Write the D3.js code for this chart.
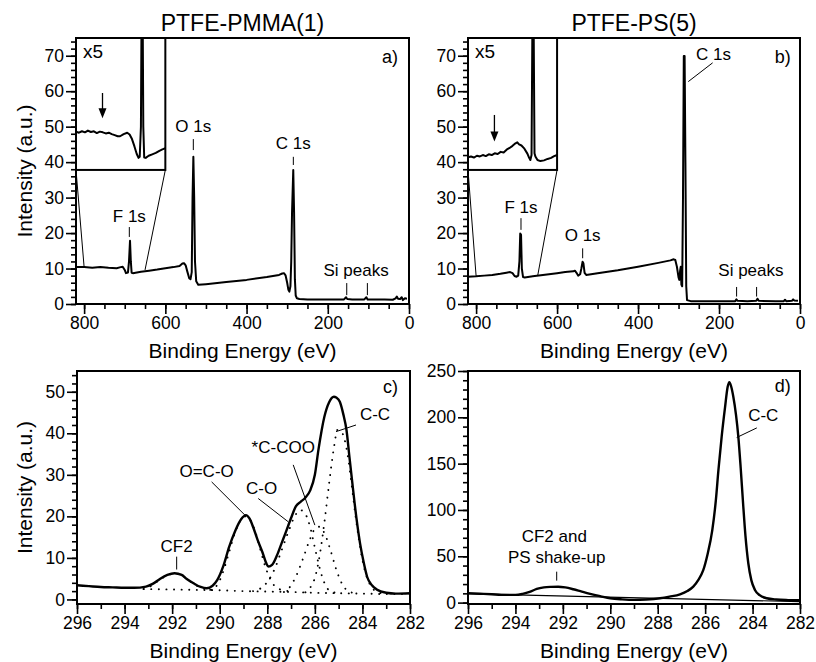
<!DOCTYPE html>
<html>
<head>
<meta charset="utf-8">
<script src="https://cdn.jsdelivr.net/npm/d3@7"></script>
<style>
body { margin: 0; background: #fff; }
svg text { font-family: "Liberation Sans", Arial, Helvetica, sans-serif; fill: #000; }
</style>
</head>
<body>
<script>
// ---- data: [binding energy (eV), intensity (a.u.)] ----
var titles = ['PTFE-PMMA(1)', 'PTFE-PS(5)'];

var surveyA = [[820,10.4],[800,10.4],[780,10.2],[760,10.4],[740,10.2],[720,10.1],[710,10.4],[705,10.5],[700,9.6],[697,8.7],[692,8.9],[689.5,12],[687,17.8],[685,12],[683,8.8],[680,8.7],
  [660,9.1],[640,9.4],[620,9.7],[600,10.1],[580,10.4],[565,10.7],[558,11.4],[554,11.5],[550,10.9],[546,9.2],[541,7.2],[538,7.0],[535,9],[533,30],[531,41.5],[529,30],[527,12],[524,6.4],[519,5.4],
  [500,5.6],[450,6.2],[400,6.8],[350,7.6],[320,8.2],[312,8.6],[308,8.7],[304,8.1],[300,6.0],[297,4.0],[294.6,3.5],[292,5],[290,12],[288,26],[285,37.8],[283,26],[281,7],[279,2.4],[276,1.6],
  [270,1.4],[250,1.3],[200,1.3],[160,1.3],[155,1.9],[152,1.4],[140,1.3],[110,1.3],[105,1.9],[102,1.3],[60,1.3],[40,1.2],[33,1.6],[30,2.1],[27,1.5],[22,1.4],[18,1.9],[15,1.1],[10,1.6],[5,1.5]];

var insetA = [[800,48.6],[795,48.3],[790,48.7],[785,48.4],[780,48.9],[775,48.5],[770,48.7],[765,48.2],[760,48.6],[755,48.4],[750,48.1],[745,48.3],[740,47.9],[735,47.6],[730,47.3],[726,47.3],
  [720,47.9],[714,48.3],[710,47.8],[706,46.5],[702,44.5],[698,42.3],[695,41.2],[693,41.5],[691,50],[690,80],[688,80],[687,50],[685.5,41.3],[683,41.2],[678,41.8],[672,42.2],[666,42.6],[660,43.2],[655,43.6],[650,43.9]];

var surveyB = [[820,7.7],[800,7.8],[780,8.0],[760,8.2],[740,8.5],[725,8.8],[716,9.0],[710,8.7],[705,7.9],[700,7.7],[696,8],[693,12],[691,19.9],[689,19.5],[687,10],[684,7.6],[680,7.5],
  [660,7.8],[640,8.1],[620,8.4],[600,8.7],[580,9.0],[560,9.2],[556,9.4],[552,8.8],[548,8.0],[543,8.4],[540,10],[537,11.9],[535,11.5],[532,8.8],[528,8.2],
  [500,8.7],[450,9.5],[400,10.5],[350,11.6],[320,12.3],[312,12.6],[308,12.4],[304,10.5],[300,7.5],[298,6.8],[296,9.5],[294.5,10.5],[293,5.5],[291,5.0],[289,30],[287,69.9],[285,69.9],[283,40],[281,5],[279,1.1],
  [270,0.8],[240,0.8],[200,0.8],[160,0.8],[157,1.3],[154,0.9],[130,0.8],[108,0.9],[105,1.5],[102,0.9],[60,0.8],[40,0.8],[37,1.2],[34,0.8],[20,0.9],[17,1.3],[14,1.0],[5,0.9]];

var insetB = [[800,41.4],[795,41.6],[790,41.3],[785,41.8],[780,41.6],[775,42.0],[770,41.7],[765,42.2],[760,42.0],[755,42.5],[750,42.3],[745,42.9],[740,42.7],[735,43.5],[730,44.0],[725,44.6],
  [720,45.3],[717,45.6],[714,45.0],[710,44.7],[705,43.8],[700,42.4],[697,41.2],[695,40.6],[693,42],[691.5,80],[689.5,80],[688,42.5],[686.5,41.6],[683,40.6],[678,40.3],[672,40.5],[666,40.9],[660,41.2],[655,41.7],[650,42.0]];

var c1sPMMA = [[296.0,3.4],[295.5,3.2],[295.0,3.0],[294.5,2.9],[294.0,2.8],[293.6,2.8],[293.1,3.1],[292.8,3.8],[292.5,5.0],[292.2,5.9],[291.9,6.3],[291.6,5.9],[291.4,5.0],[291.1,3.9],[290.8,3.0],[290.55,2.7],
  [290.3,3.3],[290.1,4.7],[289.85,8.0],[289.6,12.7],[289.35,16.5],[289.1,19.3],[288.9,20.3],[288.75,19.5],[288.6,17.5],[288.4,14.2],[288.2,11.3],[288.05,8.8],[287.95,7.9],[287.8,8.3],[287.6,10.5],
  [287.4,13.5],[287.2,16.5],[287.0,19.6],[286.8,22.4],[286.6,23.5],[286.4,24.5],[286.2,26.2],[286.0,30.0],[285.85,36.0],[285.6,44.0],[285.4,47.5],[285.2,48.8],[285.1,48.6],[284.95,47.6],[284.8,44.5],
  [284.67,40.8],[284.55,34.5],[284.4,26.8],[284.25,19.5],[284.1,13.5],[283.95,9.0],[283.8,5.4],[283.6,3.4],[283.4,2.4],[283.0,1.6],[282.6,1.4],[282.0,1.5]];
var fitBaseline = [[293.2,2.5],[292,2.4],[291,2.3],[290,2.2],[289,2.0],[288,1.9],[287,1.8],[286,1.6],[285,1.5],[284,1.4],[283,1.3],[282,1.3]];
var fitCF2 = [[293.2,2.5],[292.9,3.2],[292.6,4.4],[292.3,5.5],[292.0,6.1],[291.8,6.1],[291.5,5.4],[291.2,4.2],[290.9,3.1],[290.6,2.5],[290.3,2.3]];
var fitOCO = [[290.4,2.3],[290.1,3.5],[289.85,6.8],[289.6,11.5],[289.35,16.2],[289.1,19.2],[288.9,20.0],[288.7,19.0],[288.5,16.2],[288.3,12.2],[288.1,8.2],[287.9,5.2],[287.7,3.3],[287.4,2.3],[287.1,2.0]];
var fitCO = [[288.6,2.0],[288.3,2.6],[288.0,4.2],[287.7,7.2],[287.4,11.8],[287.1,16.5],[286.85,20.0],[286.6,21.5],[286.4,20.6],[286.2,17.5],[286.0,12.5],[285.8,7.6],[285.6,4.0],[285.4,2.2],[285.1,1.6]];
var fitCCOO = [[287.3,1.8],[287.05,3.0],[286.8,5.5],[286.5,9.8],[286.2,14.6],[285.95,17.3],[285.8,17.5],[285.6,16.0],[285.35,12.0],[285.1,7.2],[284.85,3.7],[284.6,2.0],[284.3,1.5]];
var fitCC = [[286.4,1.7],[286.2,2.8],[286.0,5.2],[285.8,10.5],[285.6,18.5],[285.4,28],[285.2,36.5],[285.05,40.8],[284.9,40.5],[284.75,38.5],[284.6,34],[284.45,27.5],[284.3,20.5],[284.15,14.5],[284.0,9.5],[283.85,6],[283.7,3.8],[283.5,2.2],[283.2,1.5]];

var c1sPS = [[296,10.1],[295.5,9.6],[295,9.0],[294.6,8.4],[294.0,8.3],[293.7,9.4],[293.4,11.5],[293.1,14.8],[292.8,16.4],[292.5,17.0],[292.2,17.2],[291.9,16.4],[291.56,14.4],[291.2,11.8],[290.85,9.4],[290.4,6.8],
  [290.0,4.7],[289.5,3.5],[289.0,2.9],[288.5,3.3],[287.9,4.7],[287.5,6.5],[287.06,9.0],[286.75,12.5],[286.5,17.2],[286.3,24],[286.08,35],[285.9,52],[285.7,78],[285.55,110],[285.44,143],[285.3,180],
  [285.16,211],[285.05,233],[284.98,238],[284.9,233],[284.81,222],[284.7,203],[284.6,179],[284.5,145],[284.4,107],[284.3,72],[284.18,42.5],[284.05,24],[283.9,13.7],[283.7,8],[283.4,4.7],[283.0,3.3],[282.5,2.7],[282.0,2.5]];
var bgPS = [[296,9.8],[294,8.4],[282,1.0]];

// tick values
var surveyXMajor = [800, 600, 400, 200, 0];
var surveyYMajor = [0, 10, 20, 30, 40, 50, 60, 70];
var hiresXMajor = [296, 294, 292, 290, 288, 286, 284, 282];
var pmmaYMajor = [0, 10, 20, 30, 40, 50];
var psYMajor = [0, 50, 100, 150, 200, 250];

var svg = d3.select('body').append('svg').attr('width', 816).attr('height', 662);

function makePanel(o) {
  var x = d3.scaleLinear().domain(o.xDomain).range([o.left, o.right]);
  var y = d3.scaleLinear().domain(o.yDomain).range([o.bottom, o.top]);
  var g = svg.append('g');
  var id = 'clip-' + o.name;
  svg.append('clipPath').attr('id', id).append('rect')
    .attr('x', o.left).attr('y', o.top).attr('width', o.right - o.left).attr('height', o.bottom - o.top);

  g.append('g').attr('transform', 'translate(0,' + o.bottom + ')')
    .call(d3.axisBottom(x).tickValues(o.xMinor).tickSize(5).tickFormat(''));
  g.append('g').attr('transform', 'translate(0,' + o.bottom + ')')
    .call(d3.axisBottom(x).tickValues(o.xMajor).tickSize(10).tickPadding(3).tickFormat(d3.format('d')));
  g.append('g').attr('transform', 'translate(' + o.left + ',0)')
    .call(d3.axisLeft(y).tickValues(o.yMinor).tickSize(5).tickFormat(''));
  g.append('g').attr('transform', 'translate(' + o.left + ',0)')
    .call(d3.axisLeft(y).tickValues(o.yMajor).tickSize(10).tickPadding(2).tickFormat(d3.format('d')));
  g.selectAll('.domain').remove();
  g.selectAll('.tick line').attr('stroke', '#000').attr('stroke-width', 1.6);
  g.selectAll('.tick text').attr('font-size', 17.5).attr('font-family', null).attr('fill', '#000');

  g.append('rect').attr('x', o.left).attr('y', o.top)
    .attr('width', o.right - o.left).attr('height', o.bottom - o.top)
    .attr('fill', 'none').attr('stroke', '#000').attr('stroke-width', 2);

  g.append('text').attr('x', (o.left + o.right) / 2).attr('y', o.bottom + 54)
    .attr('text-anchor', 'middle').attr('font-size', 21).text('Binding Energy (eV)');
  if (o.ylabel) {
    g.append('text').attr('transform', 'translate(31.5,' + (o.top + o.bottom) / 2 + ') rotate(-90)')
      .attr('text-anchor', 'middle').attr('font-size', 21).text('Intensity (a.u.)');
  }
  if (o.title) {
    g.append('text').attr('x', (o.left + o.right) / 2).attr('y', 30.5)
      .attr('text-anchor', 'middle').attr('font-size', 23).text(o.title);
  }
  return { x: x, y: y, g: g, clip: 'url(#' + id + ')' };
}

function drawLine(P, data, xs, curve, width, dash) {
  var line = d3.line().x(function(d){ return xs(d[0]); }).y(function(d){ return P.y(d[1]); }).curve(curve);
  var p = P.g.append('path').datum(data).attr('d', line)
    .attr('fill', 'none').attr('stroke', '#000').attr('stroke-width', width)
    .attr('stroke-linejoin', 'round').attr('clip-path', P.clip);
  if (dash) p.attr('stroke-dasharray', dash).attr('stroke-linecap', 'round');
  return p;
}

function label(P, txt, E, I, anchor, size) {
  P.g.append('text').attr('x', P.x(E)).attr('y', P.y(I))
    .attr('text-anchor', anchor || 'middle').attr('font-size', size || 17).text(txt);
}

function seg(P, E1, I1, E2, I2, xs) {
  xs = xs || P.x;
  P.g.append('line').attr('x1', xs(E1)).attr('y1', P.y(I1)).attr('x2', xs(E2)).attr('y2', P.y(I2))
    .attr('stroke', '#000').attr('stroke-width', 1);
}

function inset(P, data, conn, arrow) {
  var xi = d3.scaleLinear().domain([800, 650]).range([P.x(820), P.x(600)]);
  var id = P.clip.slice(5, -1) + '-inset';
  svg.append('clipPath').attr('id', id).append('rect')
    .attr('x', P.x(820)).attr('y', P.y(75)).attr('width', P.x(600) - P.x(820)).attr('height', P.y(37.8) - P.y(75));
  P.g.append('rect').attr('x', P.x(820)).attr('y', P.y(75))
    .attr('width', P.x(600) - P.x(820)).attr('height', P.y(37.8) - P.y(75))
    .attr('fill', 'none').attr('stroke', '#000').attr('stroke-width', 2);
  var line = d3.line().x(function(d){ return xi(d[0]); }).y(function(d){ return P.y(d[1]); });
  P.g.append('path').datum(data).attr('d', line).attr('fill', 'none').attr('stroke', '#000')
    .attr('stroke-width', 2).attr('stroke-linejoin', 'round').attr('clip-path', 'url(#' + id + ')');
  // connector lines from the inset corners to the spectrum
  seg(P, 820, 37.8, conn[0][0], conn[0][1]);
  seg(P, 600, 37.8, conn[1][0], conn[1][1]);
  // arrow
  var ax = xi(arrow[0]), ay0 = P.y(arrow[1]), ay1 = P.y(arrow[2]);
  P.g.append('line').attr('x1', ax).attr('y1', ay0).attr('x2', ax).attr('y2', ay1 - 8)
    .attr('stroke', '#000').attr('stroke-width', 1.3);
  P.g.append('path').attr('d', 'M' + (ax - 4) + ',' + (ay1 - 10) + 'L' + (ax + 4) + ',' + (ay1 - 10) + 'L' + ax + ',' + ay1 + 'Z')
    .attr('fill', '#000');
  P.g.append('text').attr('x', P.x(820) + 7).attr('y', P.y(69.3)).attr('font-size', 19).text('x5');
}

// ---- panel a ----
var surveyCommon = {
  xDomain: [820, 0], yDomain: [0, 75],
  xMajor: surveyXMajor, xMinor: d3.range(0, 801, 50),
  yMajor: surveyYMajor, yMinor: d3.range(0, 75, 2), top: 38, bottom: 304
};
var A = makePanel(Object.assign({ name: 'a', left: 76, right: 409, ylabel: true, title: titles[0] }, surveyCommon));
drawLine(A, surveyA, A.x, d3.curveLinear, 2);
inset(A, insetA, [[800, 10.4], [650, 9.6]], [755.5, 59.5, 52.4]);
label(A, 'a)', 27, 67.9, 'end', 18);
label(A, 'F 1s', 688.7, 23.2); seg(A, 688.7, 21.7, 688.7, 18.9);
label(A, 'O 1s', 531.1, 48.4); seg(A, 531.1, 46.5, 531.1, 43.4);
label(A, 'C 1s', 284.8, 43.6); seg(A, 284.8, 41.5, 284.8, 39.2);
label(A, 'Si peaks', 130.3, 7.9); seg(A, 153.3, 5.9, 153.3, 2.5); seg(A, 102.5, 5.9, 102.5, 2.5);

// ---- panel b ----
var B = makePanel(Object.assign({ name: 'b', left: 468, right: 800, title: titles[1] }, surveyCommon));
drawLine(B, surveyB, B.x, d3.curveLinear, 2);
inset(B, insetB, [[800, 7.9], [648, 7.9]], [755.5, 53.3, 45.8]);
label(B, 'b)', 22.5, 67.9, 'end', 18);
label(B, 'C 1s', 213.8, 68.8); seg(B, 215.8, 68.0, 276, 62.7);
label(B, 'F 1s', 689.1, 25.6); seg(B, 689.1, 24.2, 689.1, 20.9);
label(B, 'O 1s', 536.8, 17.8); seg(B, 536.8, 15.7, 536.8, 12.9);
label(B, 'Si peaks', 121.2, 7.9); seg(B, 156.6, 4.8, 156.6, 2.1); seg(B, 107.2, 4.8, 107.2, 2.1);

// ---- panel c ----
var C = makePanel({
  name: 'c', left: 77, right: 410, top: 371, bottom: 604, ylabel: true,
  xDomain: [296, 282], yDomain: [-1.1, 55],
  xMajor: hiresXMajor, xMinor: d3.range(282, 297, 1),
  yMajor: pmmaYMajor, yMinor: d3.range(0, 55, 2)
});
[fitBaseline, fitCF2, fitOCO, fitCO, fitCCOO, fitCC].forEach(function(s) {
  drawLine(C, s, C.x, d3.curveMonotoneX, 1.9, '0.1,7.5');
});
drawLine(C, c1sPMMA, C.x, d3.curveMonotoneX, 2.4);
label(C, 'c)', 282.5, 49.6, 'end', 18);
label(C, 'C-C', 283.47, 43.2); seg(C, 284.27, 42.0, 285.11, 40.4);
label(C, '*C-COO', 287.33, 35.3); seg(C, 286.91, 32.4, 286.0, 17.9);
label(C, 'O=C-O', 290.55, 29.4); seg(C, 290.34, 28.3, 288.94, 20.3);
label(C, 'C-O', 288.24, 25.4); seg(C, 288.38, 24.3, 287.12, 18.7);
label(C, 'CF2', 291.81, 11.5); seg(C, 291.81, 10.3, 291.81, 7.2);

// ---- panel d ----
var D = makePanel({
  name: 'd', left: 468, right: 800, top: 371, bottom: 604,
  xDomain: [296, 282], yDomain: [-1.5, 250],
  xMajor: hiresXMajor, xMinor: d3.range(282, 297, 1),
  yMajor: psYMajor, yMinor: d3.range(0, 251, 10)
});
drawLine(D, bgPS, D.x, d3.curveLinear, 1.2);
drawLine(D, c1sPS, D.x, d3.curveMonotoneX, 2.4);
label(D, 'd)', 282.39, 227.4, 'end', 18);
label(D, 'C-C', 283.55, 196.1); seg(D, 283.82, 188.6, 284.67, 178.2);
label(D, 'CF2 and', 292.36, 65.4);
label(D, 'PS shake-up', 292.26, 42.5); seg(D, 292.26, 33.4, 292.26, 23.7);
</script>
</body>
</html>
